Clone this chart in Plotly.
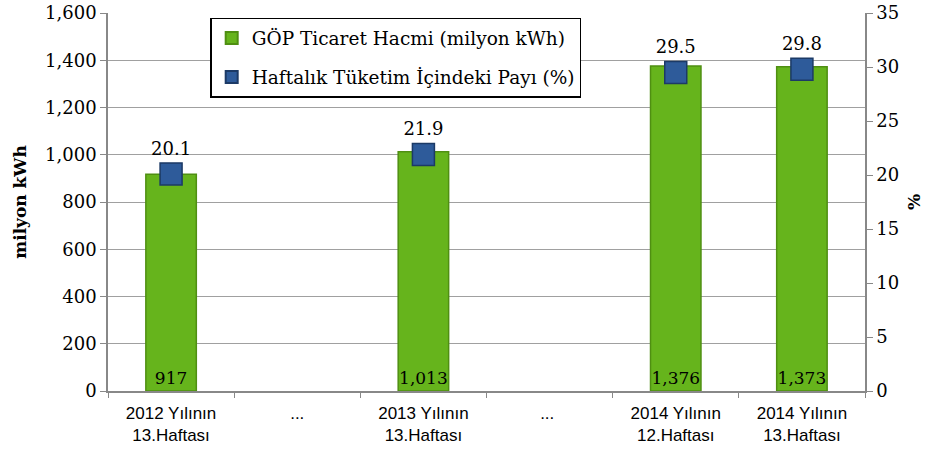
import plotly.graph_objects as go

categories = ["2012 Yılının<br>13.Haftası", "...", "2013 Yılının<br>13.Haftası", "... ",
              "2014 Yılının<br>12.Haftası", "2014 Yılının<br>13.Haftası"]
volume = [917, None, 1013, None, 1376, 1373]
share = [20.1, None, 21.9, None, 29.5, 29.8]
volume_labels = ["917", "", "1,013", "", "1,376", "1,373"]
share_labels = ["20.1", "", "21.9", "", "29.5", "29.8"]

serif = "DejaVu Serif, Liberation Serif, serif"
tickf = dict(family=serif, size=18, color="black")

fig = go.Figure()
fig.add_trace(go.Bar(
    x=categories, y=volume, name="GÖP Ticaret Hacmi (milyon kWh)", legendgroup="a",
    marker=dict(color="#66b41c", line=dict(color="#4f8f12", width=1.5)),
    width=0.4, text=volume_labels, textposition="inside", insidetextanchor="start",
    textfont=dict(family=serif, size=17, color="black"), textangle=0,
    constraintext="none", cliponaxis=False,
))
fig.add_trace(go.Scatter(
    x=categories, y=share, name="Haftalık Tüketim İçindeki Payı (%)", yaxis="y2", legendgroup="b",
    mode="markers+text", text=share_labels, textposition="top center",
    textfont=dict(family=serif, size=18, color="black"),
    marker=dict(symbol="square", size=22, color="#2e5b9a", line=dict(color="#1c3a66", width=1.5)),
    cliponaxis=False,
))

fig.update_layout(
    width=937, height=461,
    margin=dict(l=108, r=72, t=13, b=70),
    plot_bgcolor="white", paper_bgcolor="white",
    font=dict(family=serif, size=18, color="black"),
    showlegend=True,
    legend=dict(x=0.135, y=0.987, xanchor="left", yanchor="top",
                bordercolor="black", borderwidth=1.5, bgcolor="white",
                traceorder="grouped", itemsizing="constant",
                font=dict(family=serif, size=18.5), itemwidth=30, tracegroupgap=12),
    xaxis=dict(tickson="boundaries", ticks="outside", ticklen=5, tickcolor="#888888",
               showline=True, linecolor="#888888", linewidth=1.5, automargin=False,
               ticklabelstandoff=6,
               tickfont=dict(family="Liberation Sans Narrow, Liberation Sans, sans-serif", size=17)),
    yaxis=dict(range=[0, 1600], dtick=200, tickformat=",", ticks="outside", ticklen=6,
               tickcolor="#888888", showline=True, linecolor="#888888", linewidth=1.5,
               showgrid=True, gridcolor="#a0a0a0", gridwidth=1, automargin=False,
               tickfont=tickf,
               title=dict(text="<b>milyon kWh</b>", font=dict(family=serif, size=17), standoff=14)),
    yaxis2=dict(range=[0, 35], dtick=5, overlaying="y", side="right", ticks="outside", ticklen=6,
                tickcolor="#888888", showline=True, linecolor="#888888", linewidth=1.5,
                showgrid=False, automargin=False, tickfont=tickf,
                title=dict(text="<b>%</b>", font=dict(family=serif, size=17), standoff=10)),
)

fig.write_html("out.html", config={"displayModeBar": False},
               post_script="document.body.style.margin='0';")
